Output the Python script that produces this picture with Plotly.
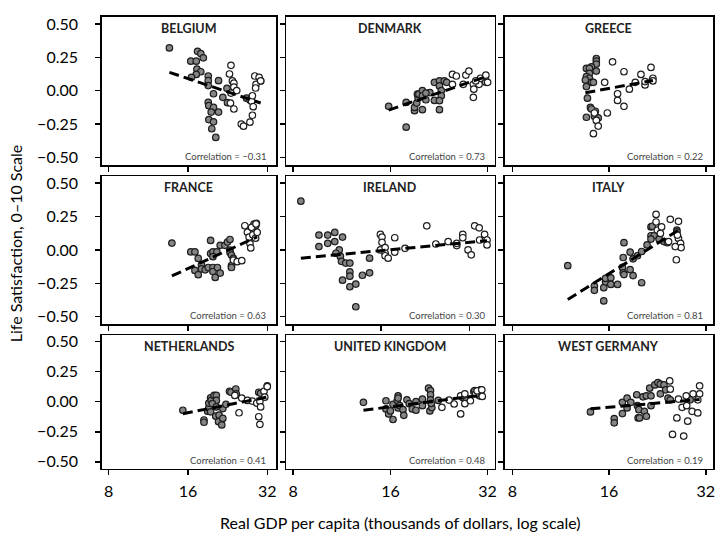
import numpy as np
import plotly.graph_objects as go

# ---------------- data ----------------
COUNTRIES = ["BELGIUM", "DENMARK", "GREECE", "FRANCE", "IRELAND", "ITALY",
             "NETHERLANDS", "UNITED KINGDOM", "WEST GERMANY"]
CORRELATIONS = ["−0.31", "0.73", "0.22", "0.63", "0.30", "0.81", "0.41", "0.48", "0.19"]
X_TICKS = [8, 16, 32]
X_TICK_LABELS = ["8", "16", "32"]
Y_TICKS = [-0.5, -0.25, 0.0, 0.25, 0.5]
Y_TICK_LABELS = ["−0.50", "−0.25", "0.00", "0.25", "0.50"]

# early years (filled grey markers) and later years (open markers)
BELGIUM_EARLY_GDP = [13.6, 17.4, 17.9, 18.3, 16.4, 17.2, 17.3, 17.9, 17.2, 16.5, 19.1, 19.1, 19.1, 20.9, 20.0,
                     19.1, 19.2, 20.0, 19.6, 20.9, 19.2, 20.0, 19.7, 20.4, 21.7, 22.5, 22.6, 26.7, 27.5, 30.2]
BELGIUM_EARLY_LS = [0.32, 0.295, 0.278, 0.246, 0.221, 0.221, 0.162, 0.142, 0.122, 0.10, 0.11, 0.075, 0.038, 0.075,
                    -0.023, -0.088, -0.112, -0.125, -0.16, -0.16, -0.216, -0.233, -0.285, -0.35, -0.05, 0.018,
                    -0.09, -0.056, -0.07, 0.073]
BELGIUM_LATE_GDP = [23.3, 23.0, 23.6, 23.9, 23.3, 23.9, 24.5, 23.2, 23.9, 25.5, 26.0, 27.9, 27.9, 28.1, 28.3,
                    28.1, 27.5, 28.7, 29.0, 28.9, 29.8, 30.2]
BELGIUM_LATE_LS = [0.19, 0.125, 0.073, 0.056, -0.018, 0.026, 0.001, -0.093, -0.137, -0.25, -0.266, -0.05, -0.08,
                   -0.038, -0.12, -0.184, -0.236, 0.11, 0.048, 0.02, 0.10, 0.073]

DENMARK_EARLY_GDP = [15.8, 17.9, 17.9, 19.0, 19.0, 19.3, 19.5, 19.4, 19.6, 20.1, 20.1, 20.1, 20.6, 21.2, 21.9,
                     21.9, 22.7, 22.7, 23.0, 23.0, 22.7, 22.7, 23.5, 23.9, 20.6, 31.5]
DENMARK_EARLY_LS = [-0.117, -0.088, -0.273, -0.15, -0.125, -0.093, -0.056, -0.026, -0.026, 0.001, -0.038, -0.142,
                    -0.068, -0.014, -0.073, 0.063, 0.073, 0.036, 0.001, -0.038, -0.075, -0.142, 0.073, 0.063,
                    -0.018, 0.10]
DENMARK_LATE_GDP = [24.9, 25.6, 24.9, 26.9, 27.4, 28.0, 28.9, 29.0, 28.9, 30.1, 30.4, 31.6, 31.6, 32.0, 29.4]
DENMARK_LATE_LS = [0.122, 0.11, 0.048, 0.048, 0.117, 0.147, 0.048, 0.011, -0.05, 0.048, 0.093, 0.117, 0.063,
                   0.063, 0.073]

GREECE_EARLY_GDP = [14.6, 14.6, 14.6, 14.1, 13.6, 13.9, 14.6, 13.9, 13.6, 13.9, 13.5, 14.1, 14.3, 13.6, 13.7,
                    14.0, 14.5, 13.6, 14.4, 14.8, 14.1, 21.8]
GREECE_EARLY_LS = [0.241, 0.221, 0.199, 0.179, 0.167, 0.167, 0.147, 0.13, 0.105, 0.093, 0.08, 0.063, 0.063, 0.031,
                   -0.056, -0.125, -0.154, -0.199, -0.191, -0.204, -0.137, 0.08]
GREECE_LATE_GDP = [16.4, 15.5, 14.4, 14.6, 14.8, 14.3, 15.8, 17.8, 17.0, 17.0, 17.8, 18.5, 19.3, 20.1, 20.7,
                   20.7, 21.6, 21.9, 21.9]
GREECE_LATE_LS = [0.216, 0.063, -0.167, -0.223, -0.265, -0.322, -0.167, 0.142, -0.023, -0.073, -0.117, 0.011,
                  0.063, 0.122, 0.043, 0.068, 0.174, 0.093, 0.073]

FRANCE_EARLY_GDP = [13.9, 16.4, 17.0, 17.5, 17.0, 17.5, 18.0, 18.0, 18.6, 19.1, 19.5, 19.5, 19.9, 19.9, 19.9,
                    20.3, 20.7, 21.2, 21.2, 20.6, 19.9, 22.1, 22.6, 23.1, 23.1, 23.1, 23.4, 23.4, 23.4, 23.8,
                    28.5, 28.9, 29.1]
FRANCE_EARLY_LS = [0.051, -0.015, -0.015, -0.064, -0.154, -0.186, -0.113, -0.142, -0.149, -0.132, -0.027, 0.071,
                   -0.015, -0.132, -0.162, -0.206, -0.132, -0.174, 0.034, -0.015, -0.051, 0.034, 0.059, 0.078,
                   -0.002, -0.02, -0.039, -0.118, -0.132, -0.064, 0.194, 0.181, 0.199]
FRANCE_LATE_GDP = [23.8, 24.6, 25.6, 26.3, 26.9, 27.3, 27.5, 27.7, 27.9, 28.2, 28.9, 29.3, 29.0]
FRANCE_LATE_LS = [-0.076, -0.088, -0.081, 0.181, 0.132, 0.096, 0.047, 0.015, 0.169, 0.113, 0.088, 0.132, 0.194]

IRELAND_EARLY_GDP = [8.5, 9.8, 10.5, 11.1, 11.8, 9.8, 10.5, 11.1, 11.5, 11.2, 11.6, 11.7, 12.1, 12.5, 12.5,
                     12.5, 11.8, 12.5, 13.1, 13.8, 14.6, 14.6, 13.1]
IRELAND_EARLY_LS = [0.365, 0.111, 0.111, 0.131, 0.096, 0.025, 0.049, 0.062, 0.0, -0.025, -0.049, -0.086, -0.099,
                    -0.099, -0.165, -0.197, -0.227, -0.276, -0.256, -0.19, -0.172, -0.062, -0.426]
IRELAND_LATE_GDP = [15.9, 16.1, 16.1, 15.9, 16.5, 16.5, 16.5, 16.9, 17.8, 17.8, 19.3, 22.9, 24.6, 27.1, 29.0,
                    29.0, 30.4, 30.4, 31.7, 32.5, 33.4, 34.6, 36.1, 36.8, 36.8, 34.7]
IRELAND_LATE_LS = [0.116, 0.096, 0.057, 0.0, 0.017, -0.025, -0.044, -0.062, 0.091, -0.017, 0.012, 0.18, 0.044,
                   0.062, 0.032, 0.049, 0.116, 0.091, 0.0, -0.037, 0.18, 0.165, 0.116, 0.074, 0.037, 0.074]

ITALY_EARLY_GDP = [11.9, 14.4, 14.4, 15.4, 15.4, 15.6, 15.6, 16.2, 16.2, 17.0, 17.6, 17.7, 17.8, 18.6, 19.0,
                   20.2, 17.7, 17.8, 18.6, 19.0, 19.6, 20.2, 21.0, 21.6, 21.8, 21.6, 22.1, 21.6, 22.9, 23.7,
                   24.3, 26.0, 26.0]
ITALY_EARLY_LS = [-0.118, -0.271, -0.303, -0.382, -0.283, -0.239, -0.214, -0.209, -0.259, -0.259, -0.131, -0.172,
                  -0.185, -0.148, -0.192, -0.246, -0.057, 0.054, -0.017, -0.067, -0.044, -0.012, 0.037, 0.172,
                  0.177, 0.106, 0.106, 0.081, 0.081, 0.062, 0.054, 0.148, 0.135]
ITALY_LATE_GDP = [22.4, 22.4, 22.6, 23.1, 23.3, 24.8, 26.3, 26.3, 26.7, 26.8, 25.7, 25.9, 24.5, 26.1]
ITALY_LATE_LS = [0.266, 0.209, 0.148, 0.123, 0.172, 0.229, 0.214, 0.086, 0.049, 0.017, 0.025, -0.074, 0.062, 0.111]

NETHERLANDS_EARLY_GDP = [15.3, 18.4, 18.4, 19.0, 19.2, 19.2, 19.5, 19.6, 20.1, 20.5, 20.5, 19.8, 19.5, 20.5, 20.4,
                         21.0, 20.9, 21.5, 21.7, 21.7, 22.3, 23.0, 23.3, 24.3, 24.4, 29.7, 30.2, 32.0]
NETHERLANDS_EARLY_LS = [-0.071, -0.152, -0.171, -0.079, -0.052, -0.011, 0.033, 0.011, 0.052, 0.052, 0.011, -0.016,
                        -0.084, -0.043, -0.12, -0.111, -0.166, -0.193, -0.139, -0.057, -0.022, 0.087, 0.079,
                        0.106, 0.065, 0.079, 0.07, 0.133]
NETHERLANDS_LATE_GDP = [24.1, 25.0, 25.6, 26.9, 28.1, 29.2, 30.0, 30.2, 29.7, 30.0, 31.1, 31.3, 32.0]
NETHERLANDS_LATE_LS = [0.052, -0.092, 0.03, 0.011, 0.005, -0.011, 0.003, -0.043, -0.125, -0.188, 0.087, 0.038,
                       0.125]

UK_EARLY_GDP = [13.2, 15.5, 15.5, 15.8, 16.3, 16.0, 16.3, 16.8, 16.9, 16.9, 16.9, 17.1, 17.5, 17.6, 18.0, 18.3,
                18.7, 19.2, 19.2, 20.1, 20.1, 21.0, 21.3, 21.3, 21.3, 21.2, 21.5, 21.4, 22.5, 26.8, 27.5, 29.0,
                29.2, 30.4, 30.2]
UK_EARLY_LS = [-0.005, 0.008, -0.06, -0.102, -0.148, -0.077, -0.022, 0.011, 0.049, 0.03, -0.052, -0.033, -0.066,
               -0.113, 0.016, -0.016, -0.06, -0.071, 0.0, 0.022, -0.033, 0.113, 0.093, 0.058, 0.016, -0.077,
               -0.049, -0.014, 0.011, 0.036, 0.008, 0.085, 0.093, 0.099, 0.049]
UK_LATE_GDP = [23.1, 24.3, 25.2, 26.4, 26.4, 27.2, 27.2, 28.3, 29.4, 29.7, 30.7, 30.8]
UK_LATE_LS = [-0.047, 0.014, -0.019, -0.102, 0.049, 0.066, -0.016, 0.008, 0.066, 0.091, 0.099, 0.044]

WGERMANY_EARLY_GDP = [14.0, 16.6, 16.6, 17.6, 17.6, 18.2, 18.2, 18.7, 19.5, 19.6, 19.8, 19.7, 19.9, 20.6, 20.9,
                      20.4, 20.9, 21.6, 21.4, 21.6, 22.2, 22.7, 23.1, 23.1, 23.7, 24.0, 24.4, 24.8, 28.3, 28.6]
WGERMANY_EARLY_LS = [-0.085, -0.14, -0.176, -0.099, -0.005, 0.03, -0.052, -0.005, 0.058, -0.033, -0.066, -0.135,
                     -0.135, -0.08, -0.121, 0.041, 0.049, 0.049, 0.113, -0.033, 0.14, 0.159, 0.146, 0.066, 0.14,
                     0.099, 0.03, 0.016, 0.022, 0.016]
WGERMANY_LATE_GDP = [24.7, 24.8, 25.2, 26.0, 26.3, 27.0, 27.3, 27.9, 28.1, 29.0, 30.2, 27.8, 29.2, 30.6, 30.6, 30.2]
WGERMANY_LATE_LS = [0.173, 0.104, -0.272, -0.135, 0.022, -0.047, -0.286, -0.033, -0.162, -0.08, -0.093, 0.049,
                    0.066, 0.066, 0.132, 0.016]

PANELS = [
    (BELGIUM_EARLY_GDP, BELGIUM_EARLY_LS, BELGIUM_LATE_GDP, BELGIUM_LATE_LS),
    (DENMARK_EARLY_GDP, DENMARK_EARLY_LS, DENMARK_LATE_GDP, DENMARK_LATE_LS),
    (GREECE_EARLY_GDP, GREECE_EARLY_LS, GREECE_LATE_GDP, GREECE_LATE_LS),
    (FRANCE_EARLY_GDP, FRANCE_EARLY_LS, FRANCE_LATE_GDP, FRANCE_LATE_LS),
    (IRELAND_EARLY_GDP, IRELAND_EARLY_LS, IRELAND_LATE_GDP, IRELAND_LATE_LS),
    (ITALY_EARLY_GDP, ITALY_EARLY_LS, ITALY_LATE_GDP, ITALY_LATE_LS),
    (NETHERLANDS_EARLY_GDP, NETHERLANDS_EARLY_LS, NETHERLANDS_LATE_GDP, NETHERLANDS_LATE_LS),
    (UK_EARLY_GDP, UK_EARLY_LS, UK_LATE_GDP, UK_LATE_LS),
    (WGERMANY_EARLY_GDP, WGERMANY_EARLY_LS, WGERMANY_LATE_GDP, WGERMANY_LATE_LS),
]

# ---------------- layout geometry ----------------
W, H = 721, 539
COL_PX = [(102, 277), (287, 496), (506, 715)]
ROW_PX = [(13, 163), (174, 324), (335, 470)]
COL_LOG2_RANGE = [(2.912, 5.113), (2.928, 5.072), (2.92, 5.074)]
IRELAND_LOG2_RANGE = (2.921, 5.288)
Y_RANGE = [-0.558, 0.553]

FONT = "Lato, 'Open Sans', sans-serif"

fig = go.Figure()
layout = dict(
    width=W, height=H,
    margin=dict(l=0, r=0, t=0, b=0),
    paper_bgcolor="white", plot_bgcolor="white",
    showlegend=False,
    font=dict(family=FONT, color="black"),
)
annotations = []

for i, (name, corr, data) in enumerate(zip(COUNTRIES, CORRELATIONS, PANELS)):
    r, c = divmod(i, 3)
    n = i + 1
    xa = "x" if n == 1 else f"x{n}"
    ya = "y" if n == 1 else f"y{n}"
    xkey = "xaxis" if n == 1 else f"xaxis{n}"
    ykey = "yaxis" if n == 1 else f"yaxis{n}"

    eg, el, lg, ll = data
    # filled (earlier) points
    fig.add_trace(go.Scatter(
        x=eg, y=el, mode="markers", xaxis=xa, yaxis=ya,
        marker=dict(size=6.5, color="#858585", line=dict(color="#1e1e1e", width=1.2)),
        hoverinfo="skip"))
    # open (later) points
    fig.add_trace(go.Scatter(
        x=lg, y=ll, mode="markers", xaxis=xa, yaxis=ya,
        marker=dict(size=6.5, color="white", line=dict(color="#1e1e1e", width=1.2)),
        hoverinfo="skip"))
    # regression line on log2 GDP
    allx = np.array(eg + lg, dtype=float)
    ally = np.array(el + ll, dtype=float)
    slope, icpt = np.polyfit(np.log2(allx), ally, 1)
    xs = np.array([allx.min(), allx.max()])
    fig.add_trace(go.Scatter(
        x=xs, y=icpt + slope * np.log2(xs), mode="lines", xaxis=xa, yaxis=ya,
        line=dict(color="black", width=3, dash="10px,5px"), hoverinfo="skip"))

    x0, x1 = COL_PX[c]
    y0, y1 = ROW_PX[r]
    lr = IRELAND_LOG2_RANGE if name == "IRELAND" else COL_LOG2_RANGE[c]
    layout[xkey] = dict(
        domain=[x0 / W, x1 / W], anchor=ya, type="log",
        range=[lr[0] * np.log10(2), lr[1] * np.log10(2)],
        tickvals=X_TICKS, ticktext=X_TICK_LABELS, showticklabels=(r == 2),
        ticks="outside", ticklen=5, tickwidth=1.5, tickcolor="black",
        showline=True, mirror=True, linecolor="black", linewidth=1.5,
        showgrid=False, zeroline=False, fixedrange=True,
        tickfont=dict(size=16, family=FONT, color="black"),
        ticklabelstandoff=3,
    )
    layout[ykey] = dict(
        domain=[1 - y1 / H, 1 - y0 / H], anchor=xa,
        range=Y_RANGE, tickvals=Y_TICKS, ticktext=Y_TICK_LABELS,
        showticklabels=(c == 0),
        ticks="outside", ticklen=5, tickwidth=1.5, tickcolor="black",
        showline=True, mirror=True, linecolor="black", linewidth=1.5,
        showgrid=False, zeroline=False, fixedrange=True,
        tickfont=dict(size=16, family=FONT, color="black"),
        ticklabelstandoff=14,
    )
    annotations.append(dict(
        text=f"<b>{name}</b>", xref=f"{xa} domain", yref=f"{ya} domain",
        x=0.5, y=1, xanchor="center", yanchor="top", yshift=-2, showarrow=False,
        font=dict(size=12.5, family=FONT, color="#222")))
    annotations.append(dict(
        text=f"Correlation = {corr}", xref=f"{xa} domain", yref=f"{ya} domain",
        x=1, y=0, xanchor="right", yanchor="bottom", xshift=-8, yshift=1, showarrow=False,
        font=dict(size=9.5, family=FONT, color="#444")))

annotations.append(dict(
    text="Life Satisfaction, 0–10 Scale", xref="paper", yref="paper",
    x=15 / W, y=1 - 242 / H, xanchor="center", yanchor="middle", textangle=-90,
    showarrow=False, font=dict(size=16, family=FONT, color="black")))
annotations.append(dict(
    text="Real GDP per capita (thousands of dollars, log scale)", xref="paper", yref="paper",
    x=402 / W, y=1 - 524 / H, xanchor="center", yanchor="middle",
    showarrow=False, font=dict(size=16, family=FONT, color="black")))

layout["annotations"] = annotations
fig.update_layout(**layout)
fig.write_html("out.html", config=dict(displayModeBar=False, staticPlot=True),
               post_script="document.body.style.margin='0px';document.body.style.overflow='hidden';")
